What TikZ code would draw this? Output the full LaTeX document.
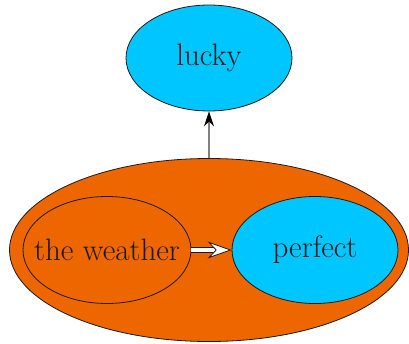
\documentclass[tikz,border=0pt]{standalone}
\usepackage{tikz}
\usetikzlibrary{positioning, arrows.meta, shapes.geometric}
\definecolor{sunset}{HTML}{EE6600}
\definecolor{sky}{HTML}{00C6FF}
\definecolor{ink}{HTML}{1A1A1A}

\begin{document}
\begin{tikzpicture}[x=1pt, y=-1pt,
    blob/.style={ellipse, draw=ink, line width=0.8pt, inner xsep=-30pt, inner ysep=0pt,
      font=\fontsize{31}{36}\selectfont, text=ink},
    lift/.style={draw=gray, line width=1.2pt, -{Stealth[black, length=15pt, width=10pt]}},
    flow/.style={draw=ink, line width=0.8pt, double=white, double distance=4pt,
      -{Stealth[fill=white, length=24pt, width=17pt, inset=8pt]}}]
    \useasboundingbox (0,0) rectangle (409,343);
    % aeussere Ellipse
    \node[blob, fill=sunset, minimum width=399pt, minimum height=183pt] (scene) at (209,250) {};
    % innere Ellipsen
    \node[blob, fill=sunset, minimum width=168pt, minimum height=107pt] (weather) at (107,250) {the weather};
    \node[blob, fill=sky, minimum width=166pt, minimum height=107pt] (perfect) at (315,250) {perfect};
    % oben
    \node[blob, fill=sky, minimum width=166pt, minimum height=106pt] (lucky) at (209,58) {lucky};
    % Verbindungen
    \draw[lift] (scene.north) -- (lucky.south);
    \draw[flow] (weather.east) -- (perfect.west);
  \end{tikzpicture}
\end{document}
